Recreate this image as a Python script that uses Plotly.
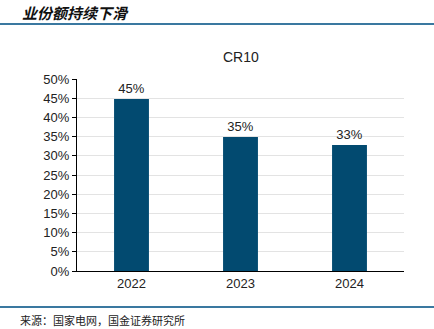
import plotly.graph_objects as go

categories = ["2022", "2023", "2024"]
values = [0.448, 0.349, 0.328]
labels = ["45%", "35%", "33%"]
tick_vals = [0, 0.05, 0.10, 0.15, 0.20, 0.25, 0.30, 0.35, 0.40, 0.45, 0.50]
tick_text = ["0%", "5%", "10%", "15%", "20%", "25%", "30%", "35%", "40%", "45%", "50%"]

fig = go.Figure()
fig.add_trace(go.Bar(
    x=categories, y=values, text=labels, textposition="outside",
    textfont=dict(family="Liberation Sans, Arial", size=13, color="#222"),
    marker=dict(color="#024a70", line=dict(width=0)),
    width=0.32, cliponaxis=False,
))

fig.update_layout(
    width=434, height=329,
    margin=dict(l=77, r=30, t=79, b=58),
    paper_bgcolor="white", plot_bgcolor="white",
    showlegend=False,
    font=dict(family="Liberation Sans, Arial", size=13, color="#222"),
    xaxis=dict(showline=True, linecolor="black", linewidth=1, ticks="",
               tickfont=dict(size=13), showgrid=False),
    yaxis=dict(range=[0, 0.5], tickvals=tick_vals, ticktext=tick_text,
               showline=True, linecolor="black", linewidth=1,
               ticks="outside", ticklen=4, tickcolor="black",
               gridcolor="#e3e3e3", gridwidth=1, tickfont=dict(size=13),
               zeroline=False),
)

fig.add_annotation(text="CR10", xref="paper", yref="y", x=0.5, y=0.5,
                   yshift=22, showarrow=False, font=dict(size=14, color="#222"))

fig.add_annotation(text="<b><i>业份额持续下滑</i></b>", xref="paper", yref="paper",
                   x=(-77 + 20) / 327, y=1, xanchor="left", yanchor="middle",
                   yshift=79 - 12, showarrow=False,
                   font=dict(family="Noto Sans CJK SC", size=15, color="#111"))
fig.add_annotation(text="来源：国家电网，国金证券研究所", xref="paper", yref="paper",
                   x=(-77 + 18) / 327, y=0, xanchor="left", yanchor="middle",
                   yshift=-(320 - 271), showarrow=False,
                   font=dict(family="Noto Sans CJK SC", size=11, color="#222"))

fig.add_shape(type="line", xref="paper", yref="paper",
              x0=-77/327, x1=(434 - 77)/327, y0=1 + (79 - 24)/192, y1=1 + (79 - 24)/192,
              line=dict(color="#3a78a0", width=2))
fig.add_shape(type="line", xref="paper", yref="paper",
              x0=-77/327, x1=(434 - 77)/327, y0=-(307 - 271)/192, y1=-(307 - 271)/192,
              line=dict(color="#3a78a0", width=2))

fig.write_html("out.html")
